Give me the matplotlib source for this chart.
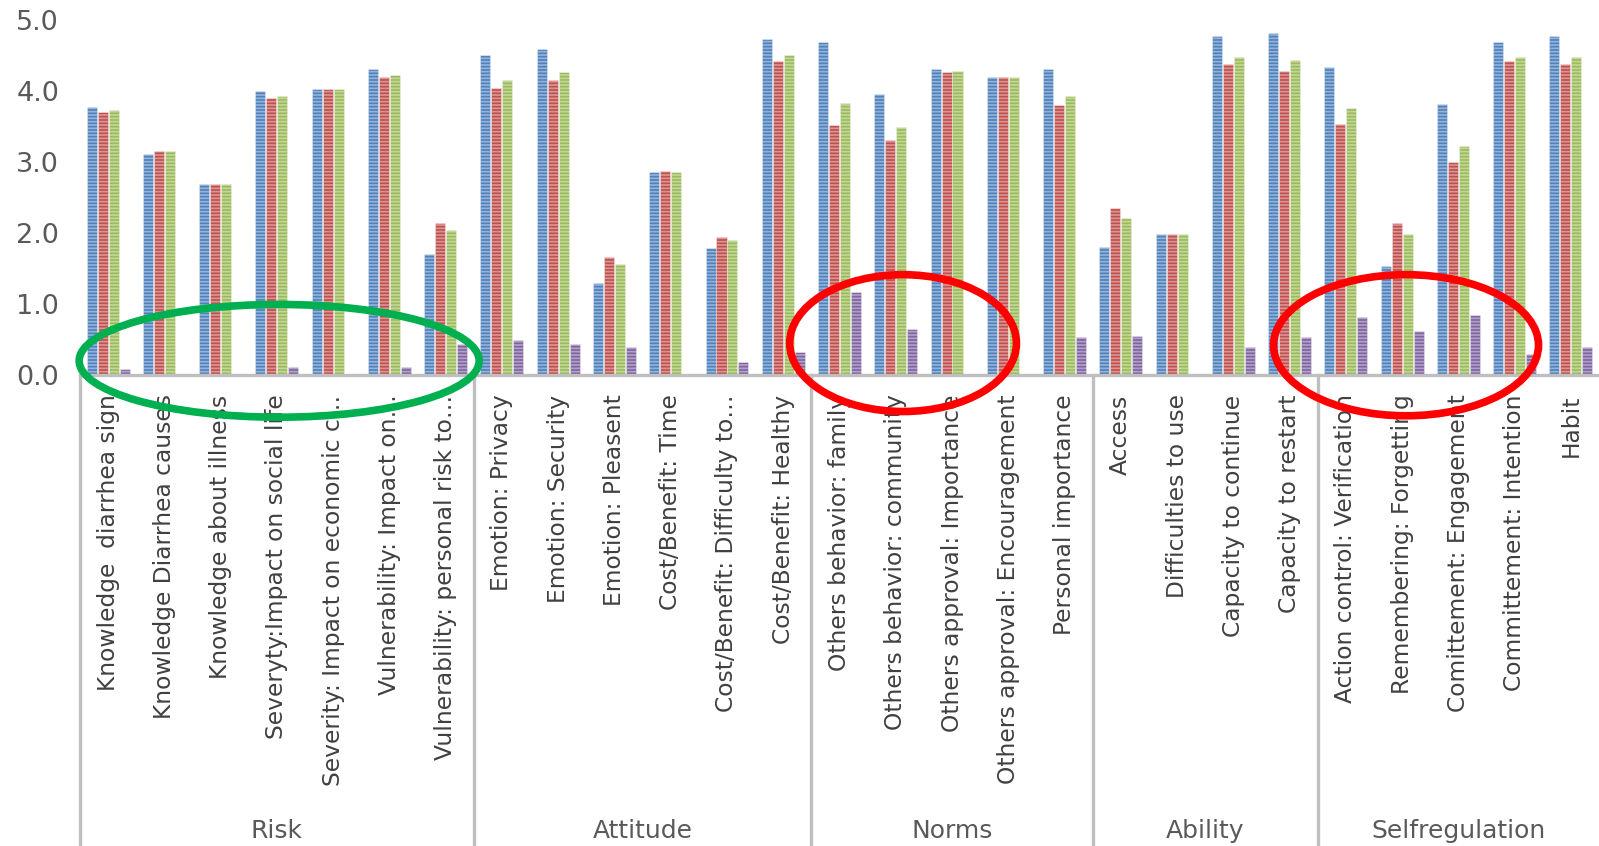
import matplotlib
matplotlib.use("Agg")
import matplotlib.pyplot as plt
import numpy as np
from matplotlib.patches import Ellipse
from matplotlib.transforms import blended_transform_factory

# --- data -------------------------------------------------------------
labels = [
    "Knowledge  diarrhea sign", "Knowledge Diarrhea causes", "Knowledge about illness",
    "Severyty:Impact on social life", "Severity: Impact on economic c…",
    "Vulnerability: Impact on…", "Vulnerability: personal risk to…",
    "Emotion: Privacy", "Emotion: Security", "Emotion: Pleasent", "Cost/Benefit: Time",
    "Cost/Benefit: Difficulty to…", "Cost/Benefit: Healthy",
    "Others behavior: family", "Others behavior: community", "Others approval: Importance",
    "Others approval: Encouragement", "Personal importance",
    "Access", "Difficulties to use", "Capacity to continue", "Capacity to restart",
    "Action control: Verification", "Remembering: Forgetting", "Comittement: Engagement",
    "Committement: Intention", "Habit",
]
groups = ["Risk", "Attitude", "Norms", "Ability", "Selfregulation"]
group_sizes = [7, 6, 5, 4, 5]

blue = [3.78, 3.12, 2.70, 4.01, 4.03, 4.32, 1.70,
        4.51, 4.60, 1.30, 2.86, 1.79, 4.74,
        4.69, 3.96, 4.31, 4.20, 4.31,
        1.81, 1.99, 4.78, 4.82,
        4.34, 1.54, 3.82, 4.69, 4.78]
red = [3.71, 3.16, 2.70, 3.90, 4.03, 4.20, 2.15,
       4.05, 4.16, 1.66, 2.88, 1.94, 4.43,
       3.52, 3.32, 4.27, 4.20, 3.81,
       2.36, 1.99, 4.38, 4.29,
       3.54, 2.14, 3.01, 4.43, 4.38]
green = [3.74, 3.16, 2.70, 3.94, 4.03, 4.23, 2.04,
         4.16, 4.27, 1.57, 2.86, 1.90, 4.51,
         3.83, 3.50, 4.29, 4.20, 3.94,
         2.21, 1.99, 4.49, 4.44,
         3.76, 1.99, 3.23, 4.49, 4.49]
purple = [0.09, 0.0, 0.0, 0.11, 0.0, 0.11, 0.44,
          0.49, 0.44, 0.40, 0.0, 0.18, 0.33,
          1.17, 0.65, 0.0, 0.0, 0.53,
          0.55, 0.0, 0.40, 0.53,
          0.82, 0.62, 0.84, 0.29, 0.40]

series = [blue, red, green, purple]
colors = ["#4F81BD", "#C0504D", "#9BBB59", "#8064A2"]

GRID = "#BFBFBF"
TEXT = "#595959"

plt.rcParams["hatch.linewidth"] = 1.2

fig = plt.figure(figsize=(15.99, 8.46), dpi=100)
ax = fig.add_axes([80 / 1599, 1 - 375 / 846, 1 - 80 / 1599, (375 - 20.5) / 846])

x = np.arange(len(labels))
step = 0.195
for i, (vals, col) in enumerate(zip(series, colors)):
    ax.bar(x + (i - 1.5) * step, vals, width=0.178, color=col,
           edgecolor=(1, 1, 1, 0.4), linewidth=0.6, hatch="-----", zorder=2)

ax.set_xlim(-0.5, len(labels) - 0.5)
ax.set_ylim(0, 5)
ax.set_yticks(np.arange(0, 5.01, 1.0))
ax.set_yticklabels([f"{v:.1f}" for v in np.arange(0, 5.01, 1.0)],
                   fontsize=19.5, color=TEXT)
ax.set_xticks(x)
ax.set_xticklabels(labels, rotation=90, ha="center", va="top",
                   family="DejaVu Sans", fontsize=16.8, color="#404040")
ax.tick_params(axis="x", length=0, pad=14)
ax.tick_params(axis="y", length=0, pad=15)
for s in ["top", "right", "left"]:
    ax.spines[s].set_visible(False)
ax.spines["bottom"].set_color(GRID)
ax.spines["bottom"].set_linewidth(2.4)

# group separators and names
trans = blended_transform_factory(ax.transData, fig.transFigure)
y_axis_fig = 1 - 375 / 846
edges = np.concatenate([[0], np.cumsum(group_sizes)]) - 0.5
for e in edges[:-1]:
    ax.plot([e, e], [y_axis_fig, 0], transform=trans, color=GRID, lw=2.4,
            clip_on=False, zorder=1)
for name, lo, hi in zip(groups, edges[:-1], edges[1:]):
    ax.text((lo + hi) / 2, 1 - 831 / 846, name, transform=trans, ha="center", va="center",
            fontsize=18, color=TEXT)

# highlight ellipses
for (cx, cy, w, h, c) in [(3.04, 0.20, 7.11, 1.59, "#00B050"),
                          (14.13, 0.45, 4.03, 1.93, "#FF0000"),
                          (23.07, 0.42, 4.71, 1.99, "#FF0000")]:
    ax.add_patch(Ellipse((cx, cy), w, h, fill=False, edgecolor=c, lw=5.5,
                         clip_on=False, zorder=5))

fig.savefig("out.png", dpi=100)
